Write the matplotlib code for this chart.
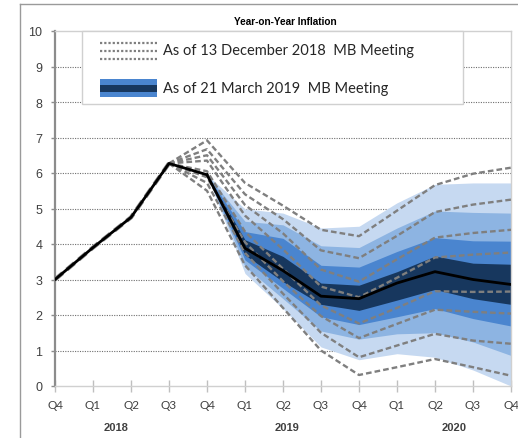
import matplotlib
matplotlib.use("Agg")
import matplotlib.pyplot as plt
from matplotlib.lines import Line2D
from matplotlib.patches import Rectangle

# ---- data -------------------------------------------------------------
quarter_labels = ["Q4", "Q1", "Q2", "Q3", "Q4", "Q1", "Q2", "Q3", "Q4",
                  "Q1", "Q2", "Q3", "Q4"]
year_labels = ["2018", "2019", "2020"]
year_label_x = [1.6, 6.1, 10.5]

# Actual inflation, Q4 2017 .. Q4 2018
actual = [3.0, 3.9, 4.75, 6.27, 5.95]

# March 2019 projection, Q4 2018 .. Q4 2020
march_center = [5.95, 3.88, 3.25, 2.53, 2.46, 2.9, 3.22, 3.0, 2.86]
band_inner_lo = [5.95, 3.69, 2.94, 2.30, 2.13, 2.42, 2.72, 2.46, 2.30]
band_inner_hi = [5.95, 4.12, 3.65, 2.90, 2.84, 3.22, 3.66, 3.46, 3.43]
band_mid_lo = [5.95, 3.55, 2.75, 1.95, 1.73, 1.95, 2.18, 1.90, 1.69]
band_mid_hi = [5.95, 4.35, 4.16, 3.40, 3.35, 3.79, 4.18, 4.09, 4.08]
band_outer_lo = [5.95, 3.36, 2.46, 1.55, 1.32, 1.47, 1.50, 1.24, 0.86]
band_outer_hi = [5.95, 4.64, 4.54, 3.95, 3.90, 4.45, 4.93, 4.89, 4.87]
band_tail_lo = [5.95, 3.17, 2.18, 1.10, 0.74, 0.91, 0.81, 0.45, 0.00]
band_tail_hi = [5.95, 4.99, 4.87, 4.45, 4.50, 5.16, 5.68, 5.72, 5.72]

# December 2018 projection bounds, Q3 2018 .. Q4 2020
dec_1 = [6.27, 6.92, 5.72, 5.08, 4.40, 4.22, 4.94, 5.66, 5.98, 6.15]
dec_2 = [6.27, 6.67, 5.40, 4.70, 3.82, 3.60, 4.23, 4.90, 5.11, 5.25]
dec_3 = [6.27, 6.50, 5.10, 4.30, 3.28, 2.94, 3.57, 4.18, 4.31, 4.40]
dec_4 = [6.27, 6.35, 4.80, 3.85, 2.80, 2.50, 3.05, 3.62, 3.70, 3.76]
dec_5 = [6.27, 6.05, 4.35, 3.30, 2.27, 1.76, 2.20, 2.67, 2.65, 2.66]
dec_6 = [6.27, 5.88, 4.05, 2.95, 1.97, 1.35, 1.75, 2.15, 2.09, 2.04]
dec_7 = [6.27, 5.72, 3.75, 2.60, 1.50, 0.81, 1.14, 1.47, 1.28, 1.19]
dec_8 = [6.27, 5.50, 3.40, 2.20, 1.00, 0.31, 0.53, 0.76, 0.53, 0.29]
dec_lines = [dec_1, dec_2, dec_3, dec_4, dec_5, dec_6, dec_7, dec_8]

legend_dec = "As of 13 December 2018  MB Meeting"
legend_mar = "As of 21 March 2019  MB Meeting"
title = "Year-on-Year Inflation"

# ---- styling ----------------------------------------------------------
NAVY = "#17375E"
MID = "#4A85CF"
LIGHT = "#8DB4E2"
PALE = "#C6D9F1"
DASH = "#7F7F7F"
TXT = "#404040"

plt.rcParams["font.family"] = ["Liberation Sans", "DejaVu Sans"]

fig = plt.figure(figsize=(5.18, 4.39), dpi=100)
ax = fig.add_axes([55 / 518, 1 - 387 / 439, 456 / 518, 355 / 439])

x_hist = list(range(len(actual)))
x_fc = list(range(4, 4 + len(march_center)))
x_dec = list(range(3, 3 + len(dec_1)))

# fan chart bands
for lo, hi, col in [(band_tail_lo, band_tail_hi, PALE),
                    (band_outer_lo, band_outer_hi, LIGHT),
                    (band_mid_lo, band_mid_hi, MID),
                    (band_inner_lo, band_inner_hi, NAVY)]:
    ax.fill_between(x_fc, lo, hi, color=col, linewidth=0, zorder=2)

# December bounds (dashed)
dash_kw = dict(color=DASH, lw=1.7, dashes=(2.4, 1.3), zorder=3,
               solid_capstyle="butt", dash_capstyle="butt")
ax.plot(x_hist[:4], actual[:4], **{**dash_kw, "lw": 3.0})
for d in dec_lines:
    ax.plot(x_dec, d, **dash_kw)

# actual + March central path
ax.plot(x_hist, actual, color="black", lw=2.0, zorder=4)
ax.plot(x_fc, march_center, color="black", lw=2.0, zorder=4)

# axes
ax.set_xlim(0, 12)
ax.set_ylim(0, 10)
ax.set_yticks(range(0, 11))
ax.set_xticks(range(13))
ax.set_xticklabels(quarter_labels)
for yv in range(1, 10):
    ax.axhline(yv, color="#6E6E6E", lw=0.8, ls=(0, (1, 1.2)), zorder=1)

for s in ["top", "right", "bottom"]:
    ax.spines[s].set_color("#D0D0D0")
    ax.spines[s].set_linewidth(1.0)
ax.spines["left"].set_color("#8C8C8C")
ax.spines["left"].set_linewidth(1.6)
ax.tick_params(axis="y", length=3, width=1, color="#8C8C8C",
               labelsize=9, labelcolor=TXT, pad=6)
ax.tick_params(axis="x", direction="inout", length=9, width=1,
               color="#BFBFBF", labelsize=8.5, labelcolor=TXT, pad=5)
for lab in ax.get_xticklabels():
    lab.set_family(["Lato", "DejaVu Sans"])

for yl, xv in zip(year_labels, year_label_x):
    ax.text(xv, -1.15, yl, ha="center", va="center", fontsize=8,
            fontweight="bold", color=TXT, clip_on=False)

fig.text(285 / 518, 1 - 22 / 439, title, ha="center", va="center",
         fontsize=7.2, fontweight="bold", color="black")

# legend box
def ay(py):
    return (387 - py) / 355

def axx(px):
    return (px - 55) / 456

ax.add_patch(Rectangle((axx(82), ay(105)), axx(463) - axx(82),
                       ay(32) - ay(105), transform=ax.transAxes,
                       facecolor="white", edgecolor="#D0D0D0", lw=1.0,
                       zorder=6, clip_on=False))
for py in (43.5, 51.5, 59.5):
    ax.add_line(Line2D([axx(100), axx(157)], [ay(py), ay(py)],
                       transform=ax.transAxes, color=DASH, lw=1.6,
                       dashes=(1.0, 0.9), zorder=7))
ax.add_patch(Rectangle((axx(100), ay(98)), axx(157) - axx(100),
                       ay(80) - ay(98), transform=ax.transAxes,
                       facecolor=MID, edgecolor="none", zorder=7))
ax.add_patch(Rectangle((axx(100), ay(93)), axx(157) - axx(100),
                       ay(86) - ay(93), transform=ax.transAxes,
                       facecolor=NAVY, edgecolor="none", zorder=8))
leg_font = dict(fontsize=10.5, color="#262626", va="center", ha="left",
                family=["Lato", "DejaVu Sans"], zorder=8)
ax.text(axx(163), ay(51), legend_dec, transform=ax.transAxes, **leg_font)
ax.text(axx(163), ay(89), legend_mar, transform=ax.transAxes, **leg_font)

# outer chart frame
fig.add_artist(Line2D([20 / 518, 20 / 518], [0, 1 - 5 / 439],
                      transform=fig.transFigure, color="#9A9A9A", lw=1.0))
fig.add_artist(Line2D([20 / 518, 1], [1 - 5 / 439, 1 - 5 / 439],
                      transform=fig.transFigure, color="#9A9A9A", lw=1.0))

fig.savefig("out.png", dpi=100)
